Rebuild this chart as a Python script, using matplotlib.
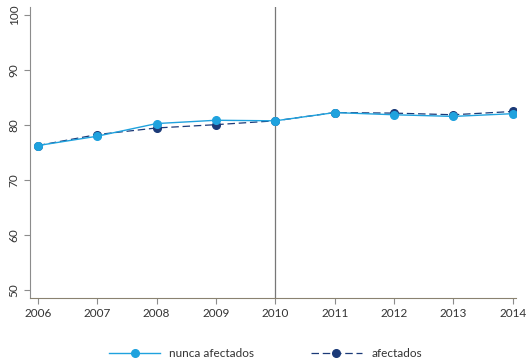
import matplotlib
matplotlib.use("Agg")
import matplotlib.pyplot as plt

# data
years = [2006, 2007, 2008, 2009, 2010, 2011, 2012, 2013, 2014]
nunca_afectados = [76.2, 77.9, 80.2, 80.8, 80.7, 82.2, 81.8, 81.5, 82.0]
afectados = [76.2, 78.2, 79.4, 80.0, 80.7, 82.2, 82.1, 81.8, 82.4]
y_ticks = [50, 60, 70, 80, 90, 100]
event_year = 2010

LIGHT = "#1fa2de"
DARK = "#1b3a78"
TXT = "#333333"

plt.rcParams["font.family"] = ["Lato", "DejaVu Sans"]

fig = plt.figure(figsize=(5.31, 3.63), dpi=100)
ax = fig.add_axes([0.0565, 0.179, 0.915, 0.802])

ax.plot(years, afectados, color=DARK, linestyle=(0, (6, 3)), linewidth=0.9,
        marker="o", markersize=5.5, label="afectados", zorder=3)
ax.plot(years, nunca_afectados, color=LIGHT, linewidth=1.0,
        marker="o", markersize=5.5, label="nunca afectados", zorder=4)

ax.axvline(event_year, color="#777777", linewidth=0.9, zorder=2)

ax.set_xlim(2005.87, 2014.05)
ax.set_ylim(48.5, 101.4)
ax.set_xticks(years)
ax.set_yticks(y_ticks)
ax.set_yticklabels([str(t) for t in y_ticks], rotation=90, va="center")

for side in ["top", "right"]:
    ax.spines[side].set_visible(False)
ax.spines["left"].set_color("#8c8c8c")
ax.spines["bottom"].set_color("#8a8270")
ax.tick_params(axis="both", colors="#8c8c8c", labelcolor=TXT, labelsize=8.5,
               length=4, width=0.8)

handles, labels = ax.get_legend_handles_labels()
fig.legend(handles[::-1], labels[::-1], loc="lower center", ncol=2,
           bbox_to_anchor=(0.5, -0.018), frameon=False, fontsize=8.5,
           handlelength=4.3, columnspacing=4.8, labelcolor=TXT)

fig.savefig("out.png", dpi=100)
